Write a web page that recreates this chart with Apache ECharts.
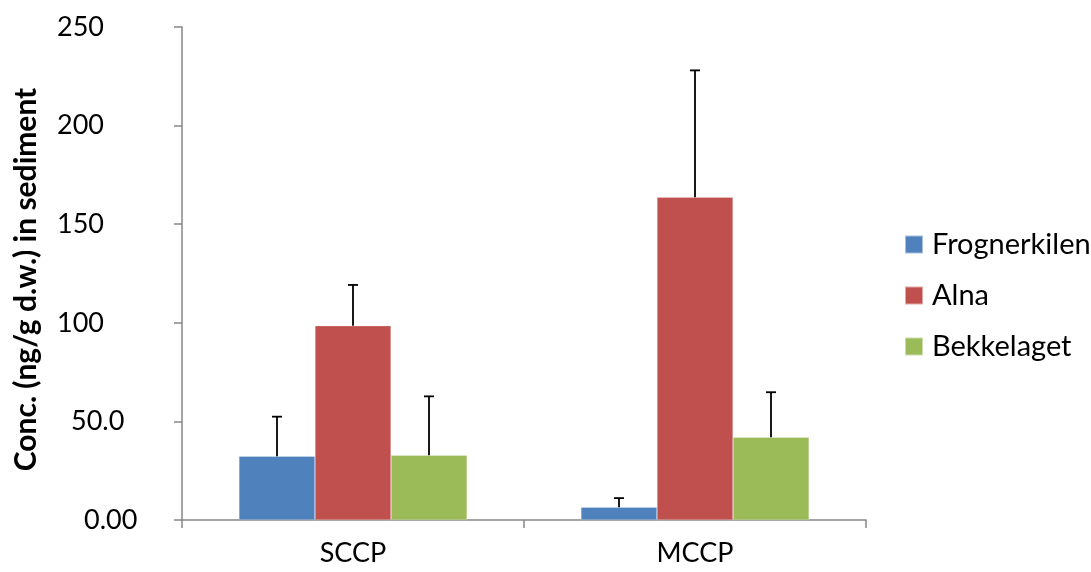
<!DOCTYPE html>
<html>
<head>
<meta charset="utf-8">
<script src="https://cdn.jsdelivr.net/npm/echarts@6/dist/echarts.min.js"></script>
<style>
html,body{margin:0;padding:0;background:#fff;}
#chart{width:1091px;height:572px;}
</style>
</head>
<body>
<div id="chart"></div>
<script>
const categories = ['SCCP', 'MCCP'];
const seriesNames = ['Frognerkilen', 'Alna', 'Bekkelaget'];
const frognerkilen = [32.3, 6.5];
const alna = [98.5, 163.7];
const bekkelaget = [32.8, 42.0];
const frognerkilenErr = [20.1, 4.6];
const alnaErr = [20.7, 64.3];
const bekkelagetErr = [29.9, 22.8];
const yTickLabels = ['0.00', '50.0', '100', '150', '200', '250'];

const colors = ['#4F81BD', '#C0504D', '#9BBB59'];
const values = [frognerkilen, alna, bekkelaget];
const errors = [frognerkilenErr, alnaErr, bekkelagetErr];
const FONT = 'Lato, "Liberation Sans", sans-serif';
const GAP = 1 / 3;

const chart = echarts.init(document.getElementById('chart'), null, {renderer: 'canvas'});

const barSeries = seriesNames.map((name, i) => ({
  name: name,
  type: 'bar',
  data: values[i],
  barGap: '0%',
  barCategoryGap: '33.3%',
  itemStyle: {color: colors[i], borderColor: 'rgba(255,255,255,0.5)', borderWidth: 0.5},
  emphasis: {disabled: true},
  z: 2
}));

const errData = [];
seriesNames.forEach((n, i) => {
  categories.forEach((c, j) => {
    errData.push([j, values[i][j], values[i][j] + errors[i][j], i]);
  });
});

const errSeries = {
  type: 'custom',
  data: errData,
  z: 5,
  silent: true,
  encode: {x: 0, y: [1, 2]},
  renderItem: function (params, api) {
    const cat = api.value(0);
    const lo = api.coord([cat, api.value(1)]);
    const hi = api.coord([cat, api.value(2)]);
    const bandW = api.size([1, 0])[0];
    const barW = bandW * (1 - GAP) / 3;
    const idx = api.value(3);
    const x = lo[0] + (idx - 1) * barW;
    const cap = 5;
    const style = {stroke: '#000', lineWidth: 1.8};
    return {
      type: 'group',
      children: [
        {type: 'line', shape: {x1: x, y1: lo[1], x2: x, y2: hi[1]}, style: style},
        {type: 'line', shape: {x1: x - cap, y1: hi[1], x2: x + cap, y2: hi[1]}, style: style}
      ]
    };
  }
};

// label offset styles (the reference labels are not flush to one edge)
const labelRich = {
  a: {fontFamily: FONT, fontSize: 27, color: '#000', padding: [0, 0, 0, 0]},
  b: {fontFamily: FONT, fontSize: 27, color: '#000', padding: [0, 0, 0, 14]},
  c: {fontFamily: FONT, fontSize: 27, color: '#000', padding: [0, 0, 0, 27]}
};

chart.setOption({
  animation: false,
  backgroundColor: '#ffffff',
  color: colors,
  grid: {left: 182, right: 225, top: 27, bottom: 52, containLabel: false},
  legend: {
    data: seriesNames,
    orient: 'vertical',
    left: 899,
    top: 224,
    itemWidth: 18,
    itemHeight: 18,
    itemGap: 20,
    icon: 'rect',
    textStyle: {fontFamily: FONT, fontSize: 29, color: '#000', lineHeight: 31, padding: [0, 0, 0, 4]}
  },
  xAxis: {
    type: 'category',
    data: categories,
    axisLine: {lineStyle: {color: '#868686', width: 1.5}},
    axisTick: {show: true, length: 8, lineStyle: {color: '#868686', width: 1.5}},
    axisLabel: {fontFamily: FONT, fontSize: 27, color: '#000', margin: 20}
  },
  yAxis: {
    type: 'value',
    min: 0,
    max: 250,
    interval: 50,
    name: 'Conc. (ng/g d.w.) in sediment',
    nameLocation: 'middle',
    nameGap: 141,
    nameRotate: 90,
    nameTextStyle: {fontFamily: FONT, fontSize: 30, fontWeight: 'bold', color: '#000', padding: [0, 12, 0, 0]},
    axisLine: {show: true, lineStyle: {color: '#868686', width: 1.5}},
    axisTick: {show: true, length: 8, lineStyle: {color: '#868686', width: 1.5}},
    splitLine: {show: false},
    axisLabel: {
      fontFamily: FONT, fontSize: 27, color: '#000', margin: 125, align: 'left',
      rich: labelRich,
      formatter: function (v) {
        const t = yTickLabels[Math.round(v / 50)];
        const key = t === '0.00' ? 'c' : (t === '50.0' ? 'b' : 'a');
        return '{' + key + '|' + t + '}';
      }
    }
  },
  series: barSeries.concat([errSeries])
});
</script>
</body>
</html>
